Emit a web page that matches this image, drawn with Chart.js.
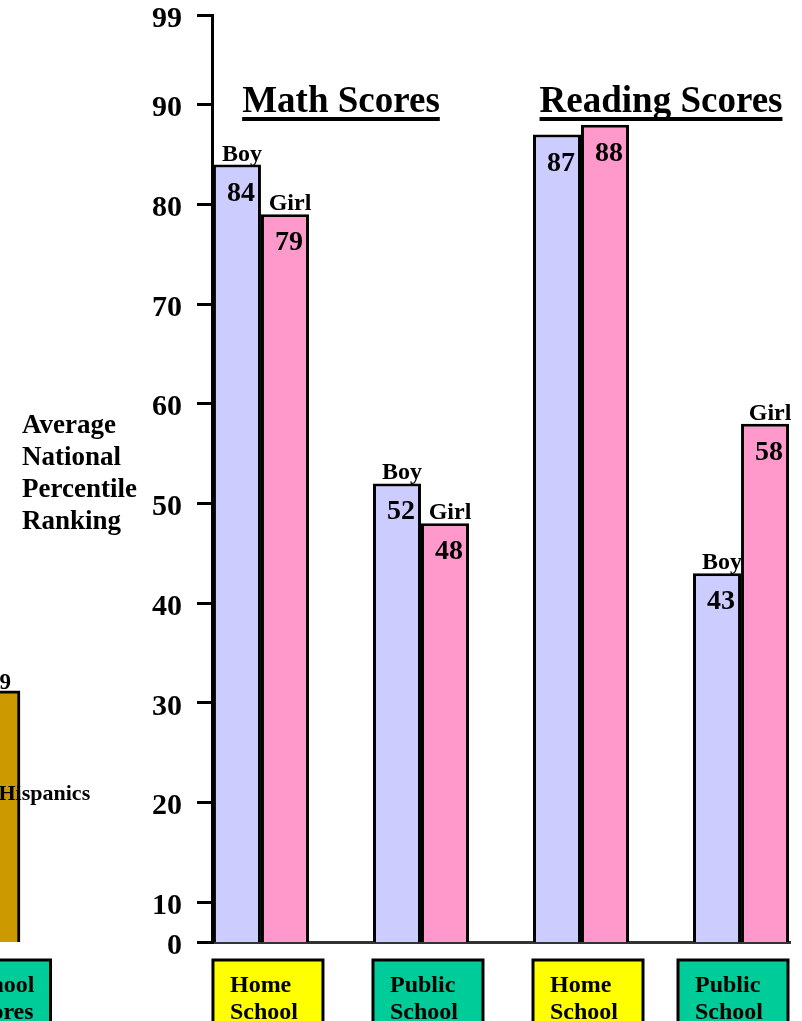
<!DOCTYPE html>
<html>
<head>
<meta charset="utf-8">
<script src="https://cdn.jsdelivr.net/npm/chart.js@4.4.0/dist/chart.umd.min.js"></script>
<style>
  html, body { margin: 0; padding: 0; background: #fff; overflow: hidden; }
  #wrap { position: relative; width: 802px; height: 1021px; overflow: hidden; }
  #grafico { position: absolute; left: 0; top: 0; }
  #vizinho { position: absolute; left: -100px; top: 0; }
</style>
</head>
<body>
<div id="wrap">
  <canvas id="vizinho" width="193" height="1021"></canvas>
  <canvas id="grafico" width="802" height="1021"></canvas>
</div>
<script>
// main chart data
const categories = ['Home School', 'Public School', 'Home School', 'Public School'];
const boyScores = [84, 52, 87, 43];
const girlScores = [79, 48, 88, 58];
const showGender = [true, true, false, true];
const subjects = ['Math Scores', 'Reading Scores'];
const yTicks = [10, 20, 30, 40, 50, 60, 70, 80, 90, 99];
const yTitle = ['Average', 'National', 'Percentile', 'Ranking'];

// piece of the neighbouring slide, cut off at the left edge
const neighborLabels = ['Hispanics'];
const neighborValues = [29];
const neighborBox = ['School', 'Scores'];

const serif = "'Liberation Serif', 'Times New Roman', serif";
const yMin = 6; // bottom of the axis, labelled "0"

const annotations = {
  id: 'annotations',
  afterDatasetsDraw(chart) {
    const { ctx, chartArea, scales: { x } } = chart;
    ctx.save();
    ctx.fillStyle = '#000';
    ctx.textAlign = 'center';
    ctx.textBaseline = 'alphabetic';

    // value inside each bar, Boy / Girl above it
    chart.data.datasets.forEach((ds, d) => {
      chart.getDatasetMeta(d).data.forEach((bar, i) => {
        ctx.font = 'bold 28px ' + serif;
        ctx.fillText(ds.data[i].y, bar.x + 4, bar.y + 36);
        if (showGender[i]) {
          ctx.font = 'bold 24px ' + serif;
          ctx.fillText(ds.label, bar.x + 5, bar.y - 4);
        }
      });
    });

    // underlined group titles
    ctx.font = 'bold 37px ' + serif;
    subjects.forEach((s, k) => {
      const cx = (x.getPixelForValue(2 * k) + x.getPixelForValue(2 * k + 1)) / 2;
      ctx.fillText(s, cx, 112);
      const w = ctx.measureText(s).width;
      ctx.fillRect(cx - w / 2, 117, w, 4);
    });

    // axis title, horizontal, four lines
    ctx.textAlign = 'left';
    ctx.font = 'bold 27px ' + serif;
    yTitle.forEach((line, j) => ctx.fillText(line, 22, 433 + j * 32));

    // coloured boxes under the groups
    const boys = chart.getDatasetMeta(0).data;
    const boxW = 110;
    categories.forEach((c, i) => {
      const left = Math.min(boys[i].x - boys[i].width / 2, chartArea.right - boxW - 2);
      ctx.fillStyle = c.startsWith('Home') ? '#ffff00' : '#00cc99';
      ctx.fillRect(left, 960, boxW, 80);
      ctx.lineWidth = 3;
      ctx.strokeStyle = '#000';
      ctx.strokeRect(left, 960, boxW, 80);
      ctx.fillStyle = '#000';
      ctx.font = 'bold 24px ' + serif;
      c.split(' ').forEach((word, j) => ctx.fillText(word, left + 17, 992 + j * 27));
    });
    ctx.restore();
  }
};

const grafico = new Chart(document.getElementById('grafico'), {
  type: 'bar',
  data: {
    datasets: [
      {
        label: 'Boy',
        data: boyScores.map((v, i) => ({ x: i, y: v })),
        backgroundColor: '#ccccff',
        borderColor: '#000',
        borderWidth: 3
      },
      {
        label: 'Girl',
        data: girlScores.map((v, i) => ({ x: i, y: v })),
        backgroundColor: '#ff99cc',
        borderColor: '#000',
        borderWidth: 3
      }
    ]
  },
  options: {
    responsive: false,
    animation: false,
    devicePixelRatio: 1,
    categoryPercentage: 0.6,
    barPercentage: 1.0,
    layout: { padding: { left: 0, right: 12, top: 15, bottom: 79 } },
    plugins: { legend: { display: false }, tooltip: { enabled: false } },
    scales: {
      x: {
        type: 'linear',
        min: -0.306,
        max: 3.306,
        offset: false,
        afterBuildTicks: s => { s.ticks = categories.map((c, i) => ({ value: i })); },
        ticks: { display: false },
        grid: { display: false },
        border: { display: true, color: '#333', width: 3 },
        afterFit: s => { s.height = 0; }
      },
      y: {
        min: yMin,
        max: 99,
        afterBuildTicks: s => { s.ticks = [yMin, ...yTicks].map(v => ({ value: v })); },
        ticks: {
          autoSkip: false,
          padding: 15,
          labelOffset: 4,
          color: '#000',
          font: { family: serif, size: 30, weight: 'bold', lineHeight: 0.9 },
          callback: v => v === yMin ? '0' : v
        },
        grid: { drawOnChartArea: false, tickLength: 15, lineWidth: 3, color: '#000' },
        border: { color: '#000', width: 3 },
        afterFit: s => {
          s.width = 212;
          s.paddingTop = 0;
          s.paddingBottom = 0;
        }
      }
    }
  },
  plugins: [annotations]
});

const neighborText = {
  id: 'neighborText',
  afterDatasetsDraw(chart) {
    const { ctx } = chart;
    const bar = chart.getDatasetMeta(0).data[0];
    ctx.save();
    ctx.fillStyle = '#000';
    ctx.textAlign = 'center';
    ctx.font = 'bold 23px ' + serif;
    ctx.fillText(neighborValues[0], bar.x + 3, bar.y - 2);
    ctx.textAlign = 'left';
    ctx.font = 'bold 22px ' + serif;
    ctx.fillText(neighborLabels[0], bar.x + 2, 800);
    const left = bar.x - 56;
    ctx.fillStyle = '#00cc99';
    ctx.fillRect(left, 960, 110, 80);
    ctx.lineWidth = 3;
    ctx.strokeStyle = '#000';
    ctx.strokeRect(left, 960, 110, 80);
    ctx.fillStyle = '#000';
    ctx.textAlign = 'center';
    ctx.font = 'bold 24px ' + serif;
    neighborBox.forEach((word, j) => ctx.fillText(word, bar.x + 4, 992 + j * 27));
    ctx.restore();
  }
};

const vizinho = new Chart(document.getElementById('vizinho'), {
  type: 'bar',
  data: {
    labels: neighborLabels,
    datasets: [{
      data: neighborValues,
      backgroundColor: '#cc9900',
      borderColor: '#000',
      borderWidth: 3,
      barThickness: 47
    }]
  },
  options: {
    responsive: false,
    animation: false,
    devicePixelRatio: 1,
    layout: { padding: { left: 0, right: 0, top: 15, bottom: 79 } },
    plugins: { legend: { display: false }, tooltip: { enabled: false } },
    scales: {
      x: { display: false },
      y: { display: false, min: 3, max: 99 }
    }
  },
  plugins: [neighborText]
});
</script>
</body>
</html>
